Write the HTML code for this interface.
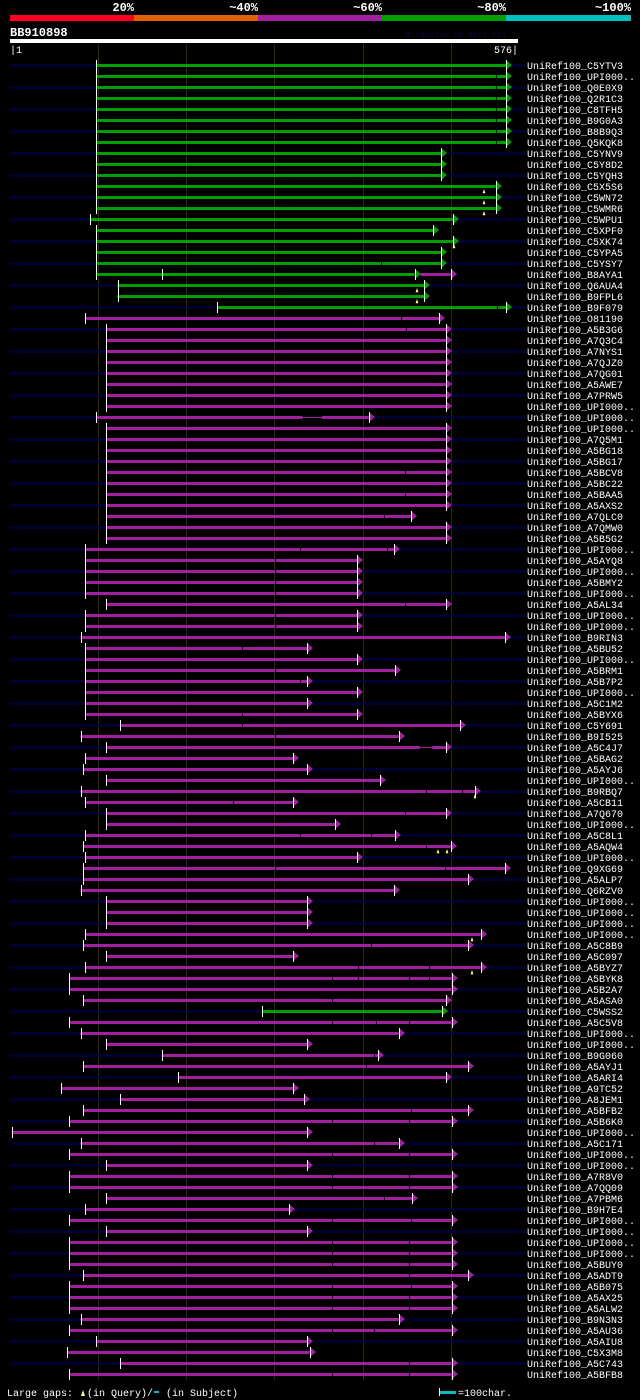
<!DOCTYPE html>
<html><head><meta charset="utf-8">
<style>
html,body{margin:0;padding:0;background:#000;}
svg{display:block;}
text{font-family:"Liberation Mono",monospace;}
</style></head>
<body>
<svg id="chart" width="640" height="1400" viewBox="0 0 640 1400" xmlns="http://www.w3.org/2000/svg">
<rect x="0" y="0" width="640" height="1400" fill="#000"/>
<g>
<rect x="10" y="15" width="124" height="6" fill="#ff0022"/>
<rect x="134" y="15" width="124" height="6" fill="#e06000"/>
<rect x="258" y="15" width="124" height="6" fill="#a020a0"/>
<rect x="382" y="15" width="124" height="6" fill="#00a000"/>
<rect x="506" y="15" width="125" height="6" fill="#00c0c0"/>
<text x="134" y="11" fill="#fff" font-size="12" font-weight="bold" text-anchor="end">20%</text>
<text x="258" y="11" fill="#fff" font-size="12" font-weight="bold" text-anchor="end">~40%</text>
<text x="382" y="11" fill="#fff" font-size="12" font-weight="bold" text-anchor="end">~60%</text>
<text x="506" y="11" fill="#fff" font-size="12" font-weight="bold" text-anchor="end">~80%</text>
<text x="631" y="11" fill="#fff" font-size="12" font-weight="bold" text-anchor="end">~100%</text>
</g>
<text x="10" y="36" fill="#fff" font-size="12" font-weight="bold">BB910898</text>
<text x="516" y="37" fill="#0a0a3a" font-size="8" text-anchor="end">AlignView.pm Beta rel.7</text>
<rect x="10" y="39" width="508" height="4" fill="#fff"/>
<text x="10" y="53" fill="#fff" font-size="10">|1</text>
<text x="518" y="53" fill="#fff" font-size="10" text-anchor="end">576|</text>
<g id="grid"></g>
<g id="rows"></g>
<g>
<text x="7" y="1396" fill="#fff" font-size="10">Large gaps:</text>
<polygon points="81,1396 83,1390 85,1396" fill="#ffff80"/>
<text x="87" y="1396" fill="#fff" font-size="10">(in Query)/</text>
<rect x="154" y="1391" width="5" height="2" fill="#00c0c0"/>
<text x="166" y="1396" fill="#fff" font-size="10">(in Subject)</text>
<rect x="439" y="1391" width="17" height="3" fill="#00c0c0"/>
<rect x="439" y="1388" width="1" height="8" fill="#fff"/>
<text x="458" y="1396" fill="#fff" font-size="10">=100char.</text>
</g>
</svg>
<script>
const names = ["C5YTV3","UPI000..","Q0E0X9","Q2R1C3","C8TFH5","B9G0A3","B8B9Q3","Q5KQK8","C5YNV9","C5Y8D2","C5YQH3","C5X5S6","C5WN72","C5WMR6","C5WPU1","C5XPF0","C5XK74","C5YPA5","C5YSY7","B8AYA1","Q6AUA4","B9FPL6","B9F079","O81190","A5B3G6","A7Q3C4","A7NYS1","A7QJZ0","A7QG01","A5AWE7","A7PRW5","UPI000..","UPI000..","UPI000..","A7Q5M1","A5BG18","A5BG17","A5BCV8","A5BC22","A5BAA5","A5AXS2","A7QLC0","A7QMW0","A5B5G2","UPI000..","A5AYQ8","UPI000..","A5BMY2","UPI000..","A5AL34","UPI000..","UPI000..","B9RIN3","A5BU52","UPI000..","A5BRM1","A5B7P2","UPI000..","A5C1M2","A5BYX6","C5Y691","B9I525","A5C4J7","A5BAG2","A5AYJ6","UPI000..","B9RBQ7","A5CB11","A7Q670","UPI000..","A5C8L1","A5AQW4","UPI000..","Q9XG69","A5ALP7","Q6RZV0","UPI000..","UPI000..","UPI000..","UPI000..","A5C8B9","A5C097","A5BYZ7","A5BYK8","A5B2A7","A5ASA0","C5WSS2","A5C5V8","UPI000..","UPI000..","B9G060","A5AYJ1","A5ARI4","A9TC52","A8JEM1","A5BFB2","A5B6K0","UPI000..","A5C171","UPI000..","UPI000..","A7R8V0","A7QQ09","A7PBM6","B9H7E4","UPI000..","UPI000..","UPI000..","UPI000..","A5BUY0","A5ADT9","A5B075","A5AX25","A5ALW2","B9N3N3","A5AU36","A5AIU8","C5X3M8","A5C743","A5BFB8"];
const starts = [98,98,98,98,98,98,98,98,98,98,98,98,98,98,91,98,98,98,98,98,122,122,235,85,109,109,109,109,109,109,109,109,98,109,109,109,109,109,109,109,109,109,109,109,85,85,85,85,85,109,85,85,80,85,85,85,85,85,85,85,125,80,109,85,83,109,80,85,109,109,85,83,85,83,83,80,109,109,109,85,83,109,85,67,67,83,286,67,80,109,173,83,191,58,125,83,67,2,80,67,109,67,67,109,85,67,109,67,67,67,83,67,67,67,80,67,98,65,125,67];
const ends = [563,563,563,563,563,563,563,563,489,489,489,551,551,551,503,480,503,489,489,459,470,470,563,487,495,495,495,495,495,495,495,495,407,495,495,495,495,495,495,495,495,455,495,495,436,394,394,394,394,495,394,394,562,337,394,437,337,394,337,394,511,441,495,321,337,420,528,321,495,369,437,500,394,562,520,436,337,337,337,534,520,321,534,501,501,495,490,501,441,337,418,520,495,321,334,520,501,337,441,501,337,501,501,456,317,501,337,501,501,501,520,501,501,501,441,501,337,340,501,501];
const hitType = ["g","g","g","g","g","g","g","g","g","g","g","g","g","g","g","g","g","g","g","g","g","g","g","p","p","p","p","p","p","p","p","p","p","p","p","p","p","p","p","p","p","p","p","p","p","p","p","p","p","p","p","p","p","p","p","p","p","p","p","p","p","p","p","p","p","p","p","p","p","p","p","p","p","p","p","p","p","p","p","p","p","p","p","p","p","p","g","p","p","p","p","p","p","p","p","p","p","p","p","p","p","p","p","p","p","p","p","p","p","p","p","p","p","p","p","p","p","p","p","p"];
const notchRows = [1,2,3,4,5,6,7,18,22,23,24,37,39,41,44,44,45,46,47,48,49,50,51,53,55,56,59,60,61,62,63,66,66,67,68,70,70,71,73,73,74,75,80,82,82,83,83,83,83,85,87,87,87,88,90,91,95,96,96,98,99,99,101,101,102,102,103,105,105,107,107,108,108,109,109,110,111,111,112,112,113,113,114,115,115,118,119,119];
const notchPos = [551,551,551,551,551,551,551,421,553,444,449,448,448,424,329,428,301,301,301,301,448,301,301,263,301,329,263,263,301,471,420,513,472,253,448,329,410,472,301,494,554,455,410,395,475,395,475,365,453,365,453,415,365,453,413,404,455,365,453,413,365,453,365,453,365,453,424,455,365,453,365,453,365,453,365,453,455,365,453,365,453,365,453,413,365,453,365,453];
const extraRows = [19];
const extraEnds = [500];
const thinGapRows = [32,62];
const thinGapFrom = [332,465];
const thinGapTo = [354,479];
const qGapRows = [11,12,13,16,20,21,66,71,71,79,82];
const qGapPos = [538,538,538,504,462,462,528,486,496,524,524];

const X0 = 10, PX = 0.8814, Y0 = 65, DY = 11;
const NS = "http://www.w3.org/2000/svg";
const col = {g:"#00a000", p:"#a020a0"};
function xs(r){ return X0 + r*PX; }
function ys(i){ return Y0 + i*DY; }
function mk(tag, attrs, parent){
  const e = document.createElementNS(NS, tag);
  for (const k in attrs) e.setAttribute(k, attrs[k]);
  parent.appendChild(e);
  return e;
}
const grid = document.getElementById('grid');
[100,200,300,400,500].forEach(function(r){
  const l = mk('rect',{x:Math.round(xs(r)),y:44,width:1,height:1336,fill:'#2c2c06'},grid);
  
  
});
const rowsG = document.getElementById('rows');
function arrow(g, x, y, c){
  const t = mk('polygon',{points:(x)+','+(y-5)+' '+(x+6)+','+y+' '+(x)+','+(y+5),fill:c},g);
  
  
  const w = mk('rect',{x:x,y:y-5,width:1,height:11,fill:'#fff'},g);
  
  
}
names.forEach(function(n, i){
  const y = ys(i);
  const g = mk('g',{},rowsG);
  
  
  if (i % 2 === 0) {
    const bg = mk('rect',{x:10,y:y-1,width:516,height:3,fill:'#000030'},g);
    
    
  }
  const c = col[hitType[i]];
  const x1 = xs(starts[i]), x2 = xs(ends[i]);
  const b = mk('rect',{x:x1,y:y-1,width:Math.max(0,x2-x1),height:3,fill:c},g);
  
  
  const s = mk('rect',{x:Math.round(x1),y:y-5,width:1,height:11,fill:'#fff'},g);
  
  
  arrow(g, Math.round(x2), y, c);
  const ei = extraRows.indexOf(i);
  if (ei >= 0) {
    const xe = xs(extraEnds[ei]);
    const b2 = mk('rect',{x:x2+6,y:y-1,width:xe-x2-6,height:3,fill:col.p},g);
    
    
    arrow(g, Math.round(xe), y, col.p);
    const mt = mk('rect',{x:Math.round(xs(172)),y:y-5,width:1,height:11,fill:'#fff'},g);
    
    
  }
  const lab = mk('text',{x:527,y:y+4,fill:'#fff','font-size':10},g);
  lab.textContent = 'UniRef100_' + n;
  
  
});
notchRows.forEach(function(r, k){
  const y = ys(r);
  const nt = mk('rect',{x:Math.round(xs(notchPos[k])),y:y-1,width:1,height:3,fill:'#000'},rowsG);
  
  
});
thinGapRows.forEach(function(r, k){
  const y = ys(r);
  const a = xs(thinGapFrom[k]), b = xs(thinGapTo[k]);
  const gp = mk('rect',{x:a,y:y-1,width:b-a,height:3,fill:'#000'},rowsG);
  
  
  const ln = mk('rect',{x:a,y:y,width:b-a,height:1,fill:col[hitType[r]]},rowsG);
  
  
});
qGapRows.forEach(function(r, k){
  const y = ys(r);
  const x = Math.round(xs(qGapPos[k]));
  const m = mk('polygon',{points:(x-1)+','+(y+7)+' '+x+','+(y+4)+' '+(x+1)+','+(y+7),fill:'#ffff80',stroke:'#ffff80','stroke-width':0.6},rowsG);
  
  
});
</script>
</body></html>
